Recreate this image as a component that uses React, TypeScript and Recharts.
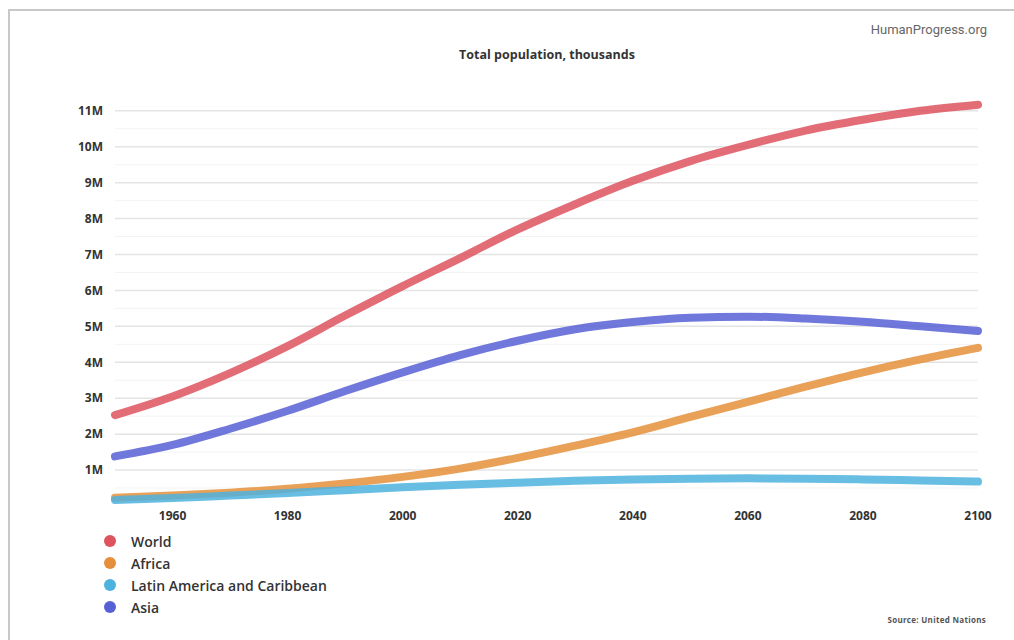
import React from 'react';
import { LineChart, Line, XAxis, YAxis, ReferenceLine } from 'recharts';

const years = [1950, 1960, 1970, 1980, 1990, 2000, 2010, 2020, 2030, 2040, 2050, 2060, 2070, 2080, 2090, 2100];
const world = [2.53, 3.05, 3.7, 4.45, 5.3, 6.12, 6.9, 7.7, 8.4, 9.05, 9.6, 10.05, 10.45, 10.75, 11.0, 11.17];
const africa = [0.23, 0.29, 0.37, 0.48, 0.63, 0.81, 1.04, 1.34, 1.68, 2.05, 2.48, 2.9, 3.32, 3.72, 4.08, 4.4];
const latinAmerica = [0.17, 0.22, 0.29, 0.36, 0.44, 0.52, 0.59, 0.65, 0.7, 0.74, 0.76, 0.77, 0.76, 0.74, 0.71, 0.68];
const asia = [1.38, 1.7, 2.15, 2.65, 3.2, 3.72, 4.2, 4.6, 4.92, 5.12, 5.24, 5.27, 5.22, 5.13, 5.0, 4.87];

const xTicks = [1960, 1980, 2000, 2020, 2040, 2060, 2080, 2100];
const yTicks = [1, 2, 3, 4, 5, 6, 7, 8, 9, 10, 11];
const minorTicks = [0.5, 1.5, 2.5, 3.5, 4.5, 5.5, 6.5, 7.5, 8.5, 9.5, 10.5];

const series = [
  { key: 'world', name: 'World', color: '#dd545e' },
  { key: 'africa', name: 'Africa', color: '#e58f3a' },
  { key: 'latam', name: 'Latin America and Caribbean', color: '#4db2de' },
  { key: 'asia', name: 'Asia', color: '#5860d6' },
];

const data = years.map((year, i) => ({
  year,
  world: world[i],
  africa: africa[i],
  latam: latinAmerica[i],
  asia: asia[i],
}));

const font = '"Open Sans", "Noto Sans", sans-serif';

const App: React.FC = () => {
  return (
    <div style={{ position: 'absolute', left: 0, top: 0, width: 1014, height: 640, background: '#fff', overflow: 'hidden', fontFamily: font }}>
      <div style={{ position: 'absolute', left: 8, top: 9, width: 1100, height: 700, borderTop: '2px solid #c8c8c8', borderLeft: '2px solid #c8c8c8' }} />
      <div style={{ position: 'absolute', right: 27, top: 22, fontSize: 13, color: '#666', fontFamily: 'Roboto, sans-serif' }}>HumanProgress.org</div>
      <div style={{ position: 'absolute', left: 0, width: 1094, top: 46, textAlign: 'center', fontSize: 12.5, fontWeight: 700, color: '#333' }}>
        Total population, thousands
      </div>
      <div style={{ position: 'absolute', right: 28, top: 614, fontSize: 8, fontWeight: 700, color: '#555', letterSpacing: 0.3 }}>Source: United Nations</div>
      <div style={{ position: 'absolute', left: 104, top: 530 }}>
        {series.map((s) => (
          <div key={s.key} style={{ display: 'flex', alignItems: 'center', height: 22 }}>
            <span style={{ width: 12, height: 12, borderRadius: 6, background: s.color, display: 'inline-block', marginRight: 15 }} />
            <span style={{ fontSize: 14, fontWeight: 600, color: '#333' }}>{s.name}</span>
          </div>
        ))}
      </div>
      <LineChart width={1014} height={640} data={data} margin={{ top: 100, right: 36, bottom: 104, left: 55 }}>
        {minorTicks.map((t) => (
          <ReferenceLine key={`m${t}`} y={t} stroke="#f3f3f3" strokeWidth={1} />
        ))}
        {yTicks.map((t) => (
          <ReferenceLine key={`g${t}`} y={t} stroke="#e4e4e4" strokeWidth={1.5} />
        ))}
        <XAxis
          dataKey="year"
          type="number"
          domain={[1950, 2100]}
          ticks={xTicks}
          height={30}
          axisLine={false}
          tickLine={false}
          tickSize={0}
          tickMargin={5}
          tick={{ fontSize: 12, fontWeight: 700, fill: '#333', fontFamily: font }}
        />
        <YAxis
          width={60}
          domain={[0, 11.3]}
          ticks={yTicks}
          tickFormatter={(v: number) => `${v}M`}
          axisLine={false}
          tickLine={false}
          tickSize={0}
          tickMargin={12}
          tick={{ fontSize: 12, fontWeight: 700, fill: '#333', fontFamily: font }}
        />
        {series.map((s) => (
          <Line
            key={s.key}
            type="monotone"
            dataKey={s.key}
            name={s.name}
            stroke={s.color}
            strokeWidth={8}
            strokeOpacity={0.85}
            strokeLinecap="round"
            dot={false}
            activeDot={false}
            isAnimationActive={false}
          />
        ))}
      </LineChart>
    </div>
  );
};

export default App;
